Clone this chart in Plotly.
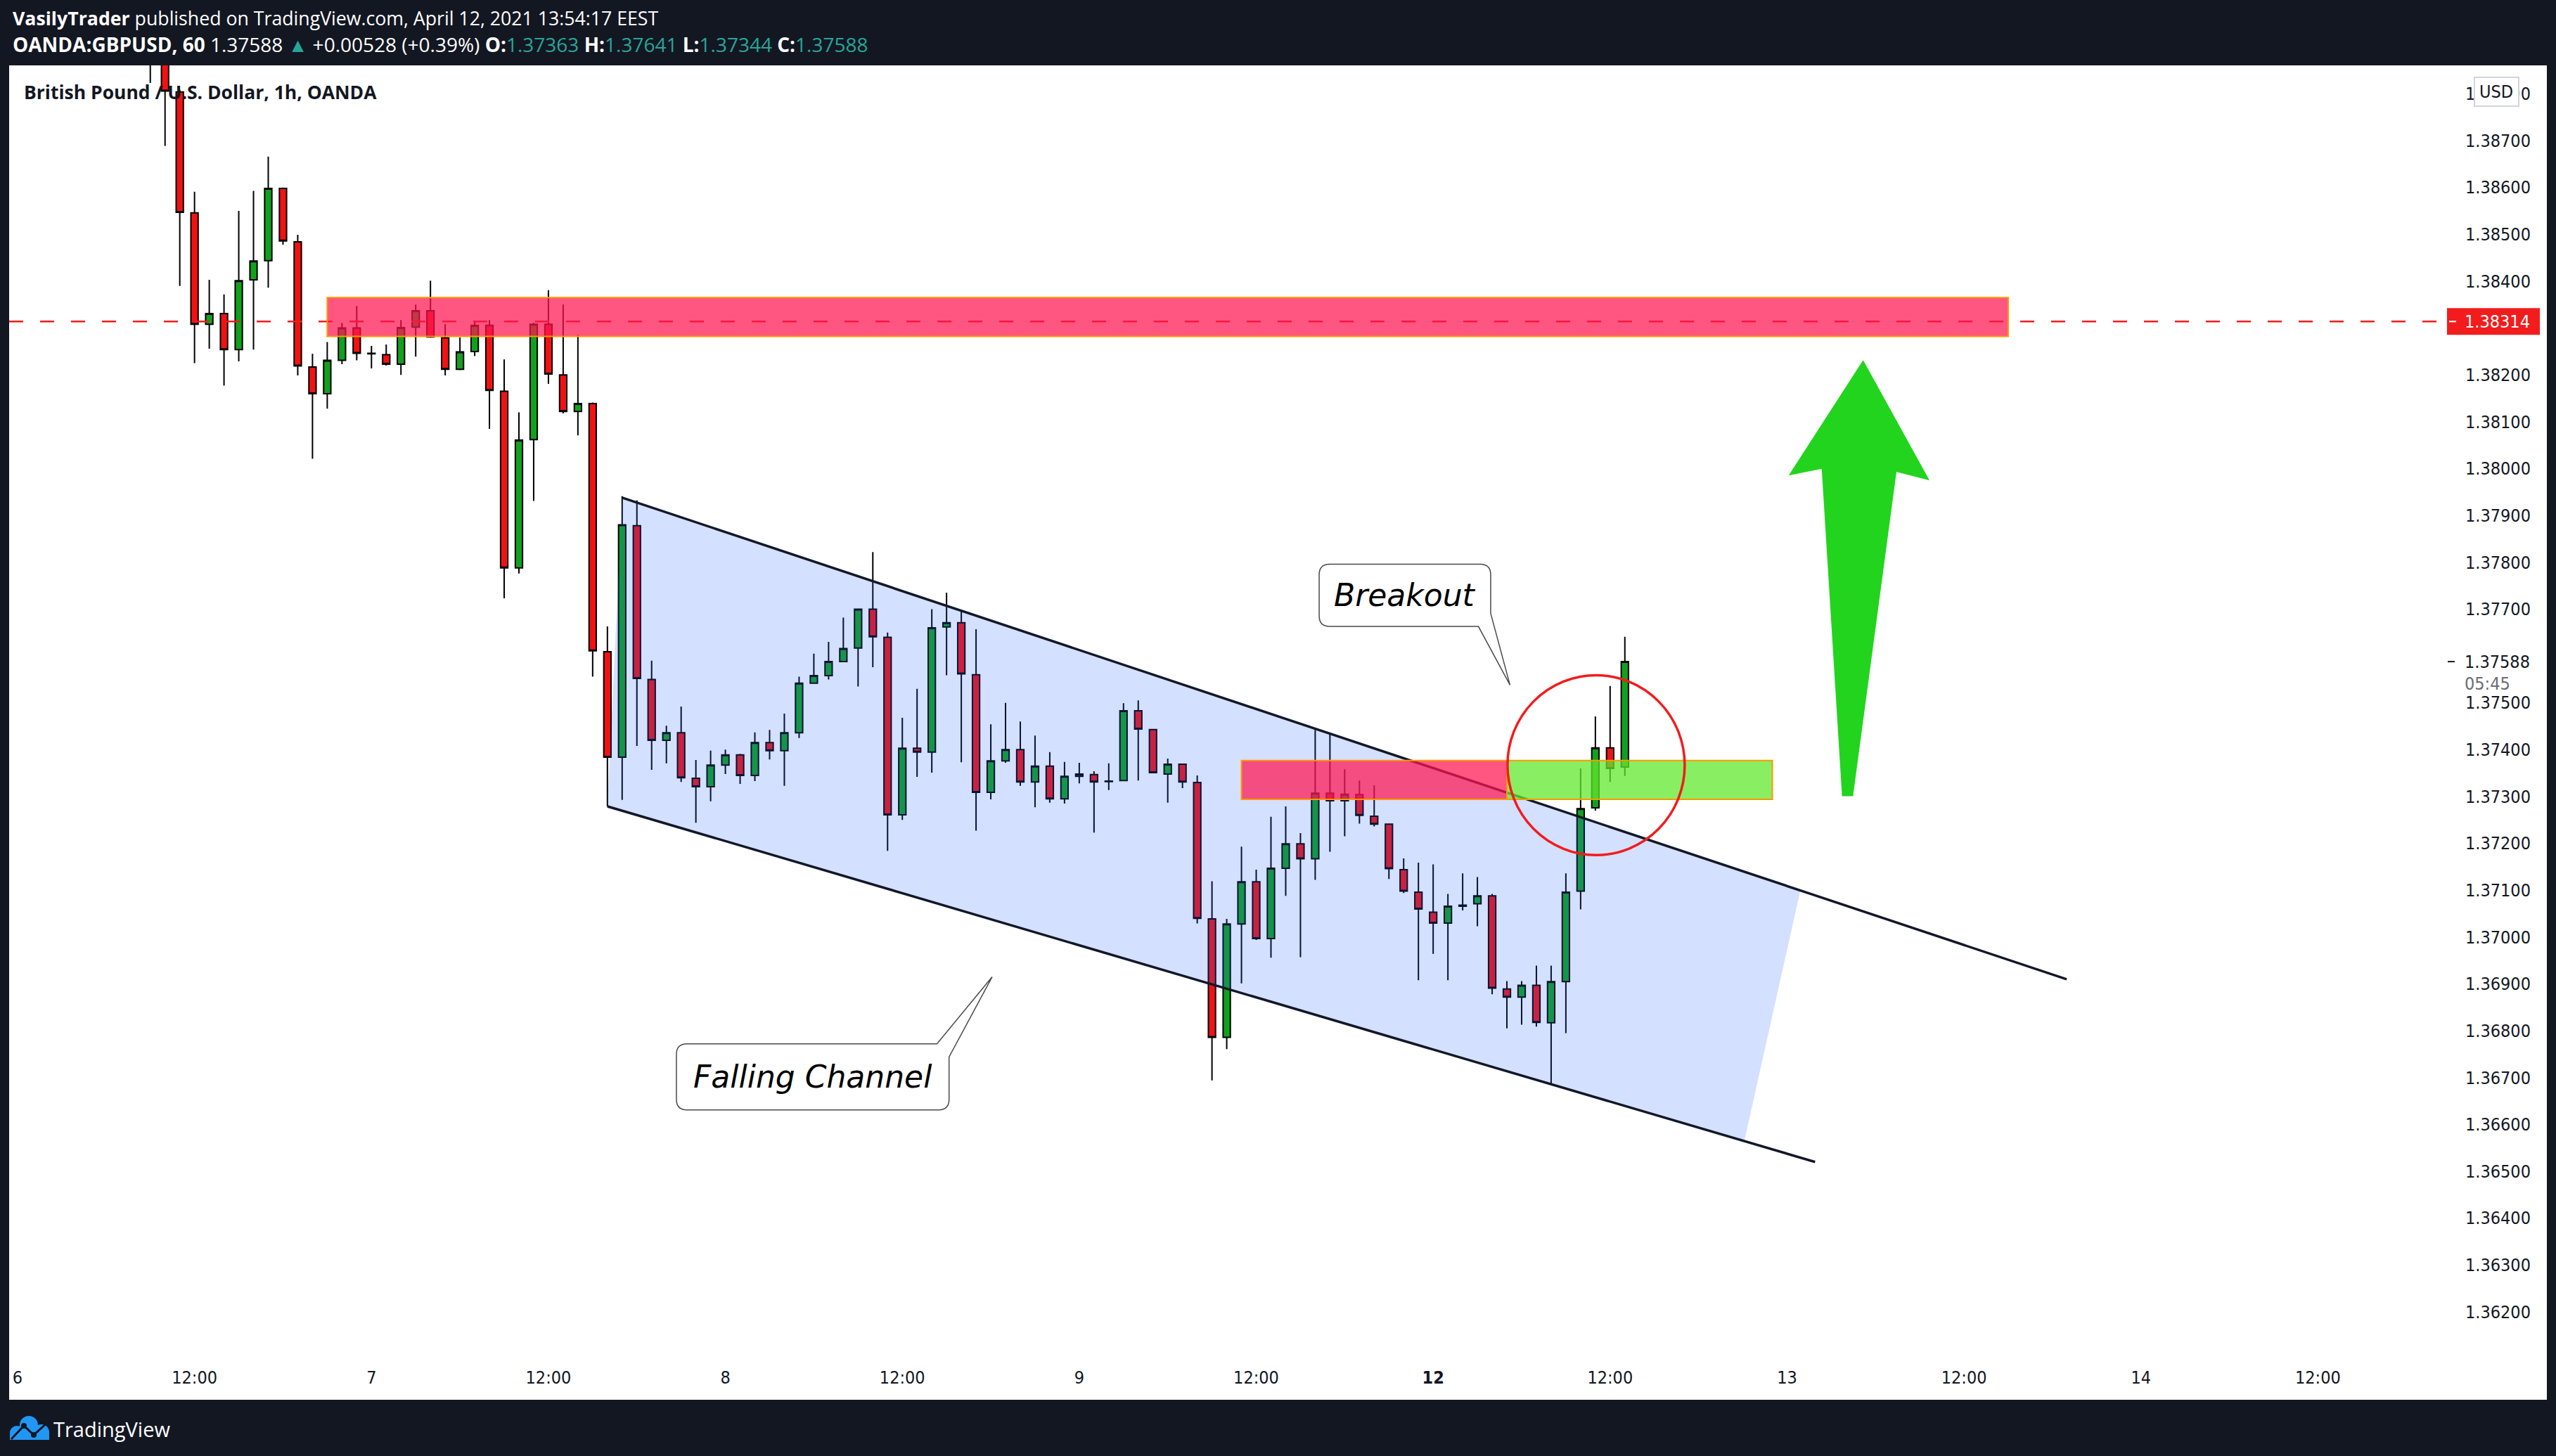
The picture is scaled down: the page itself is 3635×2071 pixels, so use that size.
import plotly.graph_objects as go

# ---------------- data ----------------
# bar index = trading hours since Tue 6 Apr 2021 00:00 EEST (weekend removed)
hours = list(range(9, 110))
opens = [1.38950, 1.38900, 1.38804, 1.38546, 1.38308, 1.38331, 1.38254, 1.38403, 1.38444, 1.38598,
         1.38484, 1.38217, 1.38160, 1.38231, 1.38300, 1.38246, 1.38243, 1.38223, 1.38302, 1.38337,
         1.38279, 1.38212, 1.38250, 1.38306, 1.38165, 1.37788, 1.38062, 1.38308, 1.38200, 1.38122,
         1.38139, 1.37609, 1.37384, 1.37878, 1.37550, 1.37420, 1.37436, 1.37339, 1.37321, 1.37367,
         1.37389, 1.37345, 1.37415, 1.37398, 1.37436, 1.37542, 1.37558, 1.37588, 1.37617, 1.37700,
         1.37640, 1.37261, 1.37403, 1.37395, 1.37662, 1.37671, 1.37560, 1.37309, 1.37376, 1.37400,
         1.37331, 1.37365, 1.37295, 1.37343, 1.37347, 1.37333, 1.37334, 1.37483, 1.37443, 1.37348,
         1.37369, 1.37330, 1.37039, 1.36786, 1.37028, 1.37118, 1.36997, 1.37147, 1.37199, 1.37167,
         1.37307, 1.37291, 1.37304, 1.37258, 1.37241, 1.37144, 1.37096, 1.37053, 1.37030, 1.37066,
         1.37071, 1.37088, 1.36889, 1.36872, 1.36897, 1.36817, 1.36905, 1.37098, 1.37276, 1.37404,
         1.37363]
highs = [1.38990, 1.38920, 1.38808, 1.38591, 1.38403, 1.38372, 1.38550, 1.38593, 1.38666, 1.38600,
         1.38499, 1.38245, 1.38270, 1.38311, 1.38347, 1.38262, 1.38265, 1.38317, 1.38350, 1.38401,
         1.38308, 1.38280, 1.38314, 1.38317, 1.38233, 1.38120, 1.38311, 1.38381, 1.38350, 1.38285,
         1.38141, 1.37663, 1.37941, 1.37932, 1.37590, 1.37451, 1.37492, 1.37378, 1.37398, 1.37400,
         1.37391, 1.37437, 1.37442, 1.37477, 1.37556, 1.37605, 1.37630, 1.37682, 1.37701, 1.37822,
         1.37650, 1.37468, 1.37530, 1.37700, 1.37735, 1.37699, 1.37657, 1.37454, 1.37500, 1.37460,
         1.37430, 1.37395, 1.37374, 1.37372, 1.37354, 1.37371, 1.37499, 1.37505, 1.37443, 1.37381,
         1.37369, 1.37345, 1.37119, 1.37039, 1.37193, 1.37144, 1.37257, 1.37279, 1.37222, 1.37442,
         1.37432, 1.37358, 1.37334, 1.37324, 1.37241, 1.37168, 1.37159, 1.37155, 1.37092, 1.37136,
         1.37128, 1.37092, 1.36906, 1.36906, 1.36939, 1.36939, 1.37136, 1.37360, 1.37471, 1.37536,
         1.37641]
lows = [1.38823, 1.38689, 1.38390, 1.38225, 1.38256, 1.38177, 1.38229, 1.38254, 1.38386, 1.38478,
        1.38199, 1.38021, 1.38128, 1.38223, 1.38231, 1.38214, 1.38220, 1.38200, 1.38239, 1.38279,
        1.38199, 1.38210, 1.38240, 1.38085, 1.37723, 1.37776, 1.37931, 1.38181, 1.38118, 1.38071,
        1.37556, 1.37279, 1.37293, 1.37408, 1.37357, 1.37371, 1.37331, 1.37244, 1.37290, 1.37348,
        1.37327, 1.37333, 1.37379, 1.37323, 1.37425, 1.37542, 1.37550, 1.37588, 1.37535, 1.37576,
        1.37184, 1.37250, 1.37342, 1.37351, 1.37559, 1.37373, 1.37227, 1.37294, 1.37372, 1.37323,
        1.37277, 1.37287, 1.37285, 1.37328, 1.37223, 1.37314, 1.37334, 1.37334, 1.37351, 1.37287,
        1.37318, 1.37029, 1.36694, 1.36761, 1.36901, 1.36994, 1.36956, 1.37088, 1.36957, 1.37122,
        1.37182, 1.37215, 1.37242, 1.37236, 1.37124, 1.37094, 1.36908, 1.36964, 1.36908, 1.37057,
        1.37023, 1.36878, 1.36805, 1.36813, 1.36809, 1.36687, 1.36795, 1.37059, 1.37270, 1.37331,
        1.37344]
closes = [1.38900, 1.38806, 1.38547, 1.38308, 1.38331, 1.38254, 1.38401, 1.38443, 1.38598, 1.38486,
          1.38219, 1.38160, 1.38231, 1.38300, 1.38246, 1.38245, 1.38223, 1.38301, 1.38337, 1.38281,
          1.38212, 1.38249, 1.38306, 1.38167, 1.37788, 1.38061, 1.38308, 1.38202, 1.38122, 1.38139,
          1.37611, 1.37384, 1.37880, 1.37552, 1.37420, 1.37436, 1.37340, 1.37321, 1.37367, 1.37389,
          1.37345, 1.37415, 1.37398, 1.37436, 1.37542, 1.37558, 1.37588, 1.37616, 1.37700, 1.37641,
          1.37261, 1.37403, 1.37395, 1.37660, 1.37671, 1.37562, 1.37309, 1.37376, 1.37400, 1.37331,
          1.37365, 1.37295, 1.37343, 1.37348, 1.37331, 1.37332, 1.37483, 1.37444, 1.37351, 1.37369,
          1.37331, 1.37040, 1.36786, 1.37028, 1.37118, 1.36997, 1.37147, 1.37199, 1.37167, 1.37307,
          1.37291, 1.37305, 1.37260, 1.37241, 1.37146, 1.37098, 1.37060, 1.37030, 1.37066, 1.37068,
          1.37088, 1.36891, 1.36872, 1.36897, 1.36818, 1.36905, 1.37096, 1.37274, 1.37404, 1.37360,
          1.37588]

time_tick_pos = [0, 12, 24, 36, 48, 60, 72, 84, 96, 108, 120, 132, 144, 156]
time_tick_text = ["6", "12:00", "7", "12:00", "8", "12:00", "9", "12:00",
                  "<b>12</b>", "12:00", "13", "12:00", "14", "12:00"]
price_tick_vals = [1.362, 1.363, 1.364, 1.365, 1.366, 1.367, 1.368, 1.369, 1.370, 1.371,
                   1.372, 1.373, 1.374, 1.375, 1.377, 1.378, 1.379, 1.380, 1.381, 1.382,
                   1.384, 1.385, 1.386, 1.387, 1.388]
price_tick_text = ["%.5f" % v for v in price_tick_vals]

last_price = 1.37588
resistance_level = 1.38314
resistance_zone = [21, 135, 1.38282, 1.38365]          # t0, t1, low, high
breakout_zone_red = [83, 101, 1.37294, 1.37377]
breakout_zone_green = [101, 119, 1.37294, 1.37377]
channel_top = [[41, 1.37938], [138.96, 1.36910]]
channel_bottom = [[40, 1.37279], [121.9, 1.36520]]
channel_fill_right = [120.9, 117.1]                   # fill ends (top line t, bottom line t)
circle_box = [101.04, 113.06, 1.37175, 1.37559]
arrow_pts = [[125.15, 1.382243], [129.42, 1.379806], [127.32, 1.379978], [124.37, 1.373045],
             [123.84, 1.373045], [122.46, 1.380040], [120.36, 1.379909]]
breakout_box = [88.27, 99.9, 1.37663, 1.37796]
breakout_tip = [101.21, 1.37538]
falling_box = [44.68, 63.17, 1.36631, 1.36772]
falling_tip = [66.09, 1.36915]

# ---------------- layout geometry ----------------
W, H = 3635, 2071
ML, PR, PT, PB = 13, 3478, 93, 1925
X_RANGE = [-0.572, 164.66]
Y_RANGE = [1.361114, 1.388607]
XU = (X_RANGE[1] - X_RANGE[0]) / (PR - ML)   # data units per px
YU = (Y_RANGE[1] - Y_RANGE[0]) / (PB - PT)


def pxx(x):
    return (x - ML) / (PR - ML)


def pxy(y):
    return (PB - y) / (PB - PT)


def line_at(line, t):
    (t0, p0), (t1, p1) = line
    return p0 + (p1 - p0) * (t - t0) / (t1 - t0)


fig = go.Figure()
fig.add_trace(go.Candlestick(
    x=hours, open=opens, high=highs, low=lows, close=closes,
    increasing=dict(fillcolor="#12a11c", line=dict(color="#000000", width=2)),
    decreasing=dict(fillcolor="#f21212", line=dict(color="#000000", width=2)),
    hoverinfo="skip", showlegend=False))

shapes = []
# white chart panel
shapes.append(dict(type="rect", xref="paper", yref="paper", x0=pxx(13), x1=pxx(3622),
                   y0=pxy(1991), y1=pxy(93), fillcolor="#ffffff", line=dict(width=0), layer="below"))
# resistance dashed line
shapes.append(dict(type="line", xref="paper", yref="y", x0=0, x1=1, y0=resistance_level,
                   y1=resistance_level, line=dict(color="#f21c1c", width=2.5, dash="20px,24px"),
                   layer="above"))
# channel fill
tl, bl = channel_top[0], channel_bottom[0]
tr = [channel_fill_right[0], line_at(channel_top, channel_fill_right[0])]
br = [channel_fill_right[1], line_at(channel_bottom, channel_fill_right[1])]
shapes.append(dict(type="path", xref="x", yref="y",
                   path="M%f,%f L%f,%f L%f,%f L%f,%f Z" % (tl[0], tl[1], tr[0], tr[1], br[0], br[1], bl[0], bl[1]),
                   fillcolor="rgba(41,98,255,0.2)", line=dict(width=0), layer="above"))
for ln in (channel_top, channel_bottom):
    shapes.append(dict(type="line", xref="x", yref="y", x0=ln[0][0], y0=ln[0][1], x1=ln[1][0], y1=ln[1][1],
                       line=dict(color="#131828", width=3.5), layer="above"))
# zones
for z, col in ((resistance_zone, "rgba(255,20,80,0.72)"), (breakout_zone_red, "rgba(255,20,80,0.72)"),
               (breakout_zone_green, "rgba(99,232,46,0.75)")):
    shapes.append(dict(type="rect", xref="x", yref="y", x0=z[0], x1=z[1], y0=z[2], y1=z[3],
                       fillcolor=col, line=dict(color="#ff9800", width=2), layer="above"))
# circle
shapes.append(dict(type="circle", xref="x", yref="y", x0=circle_box[0], x1=circle_box[1],
                   y0=circle_box[2], y1=circle_box[3], line=dict(color="#f21c1c", width=3.5), layer="above"))
# arrow
shapes.append(dict(type="path", xref="x", yref="y",
                   path="M" + " L".join("%f,%f" % (a, b) for a, b in arrow_pts) + " Z",
                   fillcolor="#22d41e", line=dict(color="#22d41e", width=5), layer="above"))

# callouts
rx, ry = 15 * XU, 15 * YU
L, R, B, T = breakout_box
pr_right = 1.37691
tb = 99.07
p = ("M%f,%f L%f,%f Q%f,%f %f,%f L%f,%f L%f,%f L%f,%f L%f,%f Q%f,%f %f,%f L%f,%f Q%f,%f %f,%f Z" % (
    L + rx, T, R - rx, T, R, T, R, T - ry, R, pr_right, breakout_tip[0], breakout_tip[1], tb, B,
    L + rx, B, L, B, L, B + ry, L, T - ry, L, T, L + rx, T))
shapes.append(dict(type="path", xref="x", yref="y", path=p, fillcolor="#ffffff",
                   line=dict(color="#4a4a4a", width=1.5), layer="above"))
L, R, B, T = falling_box
tt = 62.35
pr_r = 1.36744
p = ("M%f,%f L%f,%f L%f,%f L%f,%f L%f,%f Q%f,%f %f,%f L%f,%f Q%f,%f %f,%f L%f,%f Q%f,%f %f,%f Z" % (
    L + rx, T, tt, T, falling_tip[0], falling_tip[1], R, pr_r, R, B + ry, R, B, R - rx, B,
    L + rx, B, L, B, L, B + ry, L, T - ry, L, T, L + rx, T))
shapes.append(dict(type="path", xref="x", yref="y", path=p, fillcolor="#ffffff",
                   line=dict(color="#4a4a4a", width=1.5), layer="above"))

# price-scale labels
ry_res = PB - (resistance_level - Y_RANGE[0]) / YU
shapes.append(dict(type="rect", xref="paper", yref="paper", x0=pxx(3480), x1=pxx(3612),
                   y0=pxy(ry_res + 19), y1=pxy(ry_res - 19), fillcolor="#f21c1c", line=dict(width=0),
                   layer="above"))
shapes.append(dict(type="line", xref="paper", yref="paper", x0=pxx(3483), x1=pxx(3493),
                   y0=pxy(ry_res), y1=pxy(ry_res), line=dict(color="#ffffff", width=2), layer="above"))
ry_last = PB - (last_price - Y_RANGE[0]) / YU
shapes.append(dict(type="rect", xref="paper", yref="paper", x0=pxx(3481), x1=pxx(3612),
                   y0=pxy(ry_last + 16), y1=pxy(ry_last - 18), fillcolor="#ffffff", line=dict(width=0),
                   layer="above"))
shapes.append(dict(type="line", xref="paper", yref="paper", x0=pxx(3481), x1=pxx(3491),
                   y0=pxy(ry_last), y1=pxy(ry_last), line=dict(color="#131722", width=2), layer="above"))
# USD button
shapes.append(dict(type="rect", xref="paper", yref="paper", x0=pxx(3519), x1=pxx(3582),
                   y0=pxy(151), y1=pxy(110), fillcolor="#ffffff", line=dict(color="#d1d4dc", width=2),
                   layer="above"))

# TradingView logo (footer)
def circ(cx, cy, r, col):
    return dict(type="circle", xref="paper", yref="paper", x0=pxx(cx - r), x1=pxx(cx + r),
                y0=pxy(cy + r), y1=pxy(cy - r), fillcolor=col, line=dict(width=0), layer="above")


blue = "#2196f3"
shapes += [circ(24, 2038, 10, blue), circ(41, 2027, 13, blue), circ(59, 2037, 11, blue),
           dict(type="rect", xref="paper", yref="paper", x0=pxx(14), x1=pxx(70), y0=pxy(2048),
                y1=pxy(2036), fillcolor=blue, line=dict(width=0), layer="above"),
           dict(type="path", xref="paper", yref="paper",
                path="M%f,%f L%f,%f L%f,%f L%f,%f" % (pxx(16), pxy(2047), pxx(34), pxy(2028), pxx(48),
                                                      pxy(2041), pxx(69), pxy(2022)),
                line=dict(color="#131722", width=3), layer="above"),
           circ(34, 2028, 4, "#131722"), circ(48, 2041, 4, "#131722")]

teal = "#26a69a"
hdr = "Open Sans, Liberation Sans, sans-serif"
axf = "DejaVu Sans Condensed, Liberation Sans, sans-serif"
ann = [
    dict(x=pxx(16), y=pxy(26), text="<b>VasilyTrader</b> published on TradingView.com, April 12, 2021 13:54:17 EEST",
         font=dict(family=hdr, size=26.7, color="#ffffff")),
    dict(x=pxx(16), y=pxy(63),
         text=("<b>OANDA:GBPUSD, 60</b> 1.37588 <span style='color:%s'>▲</span> +0.00528 (+0.39%%) "
               "<b>O:</b><span style='color:%s'>1.37363</span> <b>H:</b><span style='color:%s'>1.37641</span> "
               "<b>L:</b><span style='color:%s'>1.37344</span> <b>C:</b><span style='color:%s'>1.37588</span>")
         % (teal, teal, teal, teal, teal),
         font=dict(family=hdr, size=28, color="#ffffff")),
    dict(x=pxx(32), y=pxy(131), text="<b>British Pound / U.S. Dollar, 1h, OANDA</b>",
         font=dict(family=hdr, size=26.5, color="#131722")),
    dict(x=pxx(3503), y=pxy(ry_res), text="1.38314", font=dict(family=axf, size=25, color="#ffffff")),
    dict(x=pxx(3503), y=pxy(ry_last), text="1.37588", font=dict(family=axf, size=25, color="#131722")),
    dict(x=pxx(3503), y=pxy(ry_last + 31), text="05:45", font=dict(family=axf, size=25, color="#6a6d78")),
    dict(x=pxx(3550), y=pxy(131), text="USD", xanchor="center", font=dict(family=axf, size=25, color="#131722")),
    dict(x=pxx(74), y=pxy(2032), text="TradingView", font=dict(family=hdr, size=29, color="#ffffff")),
]
for a in ann:
    a.setdefault("xanchor", "left")
    a.update(xref="paper", yref="paper", yanchor="middle", showarrow=False)
ann.append(dict(x=(breakout_box[0] + breakout_box[1]) / 2, y=(breakout_box[2] + breakout_box[3]) / 2,
                xref="x", yref="y", text="<i>Breakout</i>", showarrow=False,
                font=dict(family="DejaVu Sans", size=44, color="#000000")))
ann.append(dict(x=(falling_box[0] + falling_box[1]) / 2, y=(falling_box[2] + falling_box[3]) / 2,
                xref="x", yref="y", text="<i>Falling Channel</i>", showarrow=False,
                font=dict(family="DejaVu Sans", size=44, color="#000000")))

fig.update_layout(
    width=W, height=H, margin=dict(l=ML, r=W - PR, t=PT, b=H - PB, pad=0),
    paper_bgcolor="#131722", plot_bgcolor="#ffffff", showlegend=False,
    shapes=shapes, annotations=ann,
    xaxis=dict(range=X_RANGE, tickvals=time_tick_pos, ticktext=time_tick_text, showgrid=False,
               zeroline=False, showline=False, ticks="outside", ticklen=12, tickcolor="rgba(0,0,0,0)",
               tickfont=dict(family=axf, size=25, color="#131722"), rangeslider=dict(visible=False),
               fixedrange=True),
    yaxis=dict(range=Y_RANGE, side="right", tickvals=price_tick_vals, ticktext=price_tick_text,
               showgrid=False, zeroline=False, showline=False, ticks="outside", ticklen=22,
               tickcolor="rgba(0,0,0,0)", tickfont=dict(family=axf, size=25, color="#131722"),
               fixedrange=True),
)

fig.write_html("out.html", config={"displayModeBar": False},
               post_script="document.body.style.margin='0';document.body.style.padding='0';"
                           "document.body.style.background='#131722';document.body.style.overflow='hidden';")
